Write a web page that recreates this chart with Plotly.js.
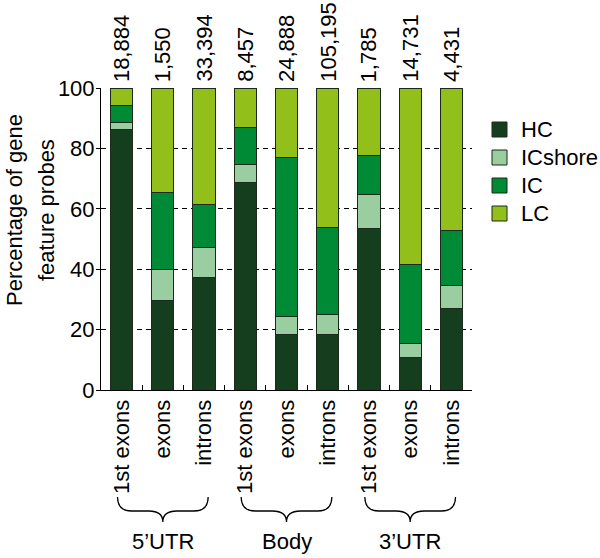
<!DOCTYPE html>
<html>
<head>
<meta charset="utf-8">
<script src="https://cdn.plot.ly/plotly-3.0.1.min.js"></script>
<style>html,body{margin:0;padding:0;background:#fff;}#chart{width:600px;height:558px;}</style>
</head>
<body>
<div id="chart"></div>
<script>
// ---- data ----
var groups = ["5\u2019UTR", "Body", "3\u2019UTR"];
var features = ["1st exons", "exons", "introns"];
var groupOfBar = ["5\u2019UTR","5\u2019UTR","5\u2019UTR","Body","Body","Body","3\u2019UTR","3\u2019UTR","3\u2019UTR"];
var featureOfBar = ["1st exons","exons","introns","1st exons","exons","introns","1st exons","exons","introns"];
var probeCounts = ["18,884","1,550","33,394","8,457","24,888","105,195","1,785","14,731","4,431"];
var HC      = [86.1, 29.7, 37.4, 68.8, 18.4, 18.4, 53.6, 10.8, 26.9];
var ICshore = [ 2.6, 10.2,  9.8,  5.8,  6.0,  6.5, 11.3,  4.7,  7.8];
var IC      = [ 5.5, 25.5, 14.3, 12.3, 52.7, 29.0, 12.8, 26.2, 18.1];
var LC      = [ 5.8, 34.6, 38.5, 13.1, 22.9, 46.1, 22.3, 58.3, 47.2];
var seriesNames = ["HC", "ICshore", "IC", "LC"];
var yTicks = [0, 20, 40, 60, 80, 100];
var yTitleLines = ["Percentage of gene", "feature probes"];

// ---- layout geometry ----
var W = 600, H = 558;
var M = {l: 101, r: 128, t: 88, b: 168};
var PW = W - M.l - M.r, PH = H - M.t - M.b;
function pxX(px){ return (px - M.l) / PW; }
function pxY(py){ return (H - M.b - py) / PH; }

// ---- build ----
var keys = groupOfBar.map(function(g, i){ return g + " | " + featureOfBar[i]; });
var colors = {HC:"#143e1d", ICshore:"#9acd9f", IC:"#008a36", LC:"#93bf1b"};
var vals = {HC:HC, ICshore:ICshore, IC:IC, LC:LC};
var FONT = "Liberation Sans, Arial, Helvetica, sans-serif";
var EDGE = "#1b2a1b";

var traces = seriesNames.map(function(n){
  return {
    type: "bar", name: n, x: keys, y: vals[n], showlegend: false,
    marker: {color: colors[n], line: {color: EDGE, width: 1}},
    hoverinfo: "x+y+name"
  };
});

var annotations = keys.map(function(k, i){
  return {x: k, y: 100, xref: "x", yref: "y", text: probeCounts[i], showarrow: false,
          textangle: -90, xanchor: "center", yanchor: "bottom", yshift: 4,
          font: {family: FONT, size: 22, color: "#000"}};
});

var nCat = keys.length;
var shapes = [];
var yTop = pxY(497), yMid = pxY(511), yTip = pxY(522);
groups.forEach(function(g, gi){
  var idxs = [];
  groupOfBar.forEach(function(gg, i){ if (gg === g) idxs.push(i); });
  var first = idxs[0], last = idxs[idxs.length-1];
  var x0 = (first - 0.1 + 0.5) / nCat, x1 = (last + 0.1 + 0.5) / nCat;
  var xc = (x0 + x1) / 2, r = 14 / PW;
  var p = "M " + x0 + "," + yTop +
          " Q " + x0 + "," + yMid + " " + (x0 + r) + "," + yMid +
          " L " + (xc - r) + "," + yMid +
          " Q " + xc + "," + yMid + " " + xc + "," + yTip +
          " Q " + xc + "," + yMid + " " + (xc + r) + "," + yMid +
          " L " + (x1 - r) + "," + yMid +
          " Q " + x1 + "," + yMid + " " + x1 + "," + yTop;
  shapes.push({type: "path", xref: "paper", yref: "paper", path: p,
               line: {color: "#000", width: 1.3}});
  annotations.push({x: xc, y: pxY(541), xref: "paper", yref: "paper", text: g,
                    showarrow: false, xanchor: "center", yanchor: "middle",
                    font: {family: FONT, size: 22, color: "#000"}});
});

// y-axis title (two lines, rotated)
var titleX = [14, 46];
yTitleLines.forEach(function(t, i){
  annotations.push({x: pxX(titleX[i]), y: pxY(210), xref: "paper", yref: "paper", text: t,
                    showarrow: false, textangle: -90, xanchor: "center", yanchor: "middle",
                    font: {family: FONT, size: 22, color: "#000"}});
});

// legend (squares + labels)
var legTop = 129.5, legStep = 28;
seriesNames.forEach(function(n, i){
  var cy = legTop + i * legStep;
  shapes.push({type: "rect", xref: "paper", yref: "paper",
               x0: pxX(492), x1: pxX(507), y0: pxY(cy + 7.5), y1: pxY(cy - 7.5),
               fillcolor: colors[n], line: {color: EDGE, width: 1}});
  annotations.push({x: pxX(519), y: pxY(cy), xref: "paper", yref: "paper", text: n,
                    showarrow: false, xanchor: "left", yanchor: "middle",
                    font: {family: FONT, size: 22, color: "#000"}});
});

var layout = {
  width: W, height: H,
  margin: {l: M.l, r: M.r, t: M.t, b: M.b, pad: 0},
  paper_bgcolor: "#fff", plot_bgcolor: "#fff",
  barmode: "stack", bargap: 0.46,
  showlegend: false,
  font: {family: FONT, size: 22, color: "#000"},
  xaxis: {
    type: "category", tickvals: keys, ticktext: featureOfBar,
    tickangle: -90, ticks: "inside", tickson: "boundaries", ticklen: 5, tickcolor: "#000",
    showline: true, linecolor: "#000", linewidth: 1, showgrid: false, zeroline: false,
    tickfont: {family: FONT, size: 22, color: "#000"}, automargin: false, fixedrange: true
  },
  yaxis: {
    range: [0, 100], tickvals: yTicks, ticks: "outside", ticklen: 4, tickcolor: "#000",
    showline: true, linecolor: "#000", linewidth: 1, ticklabelstandoff: -3,
    showgrid: true, gridcolor: "#000", griddash: "5px,4px", gridwidth: 1, zeroline: false,
    tickfont: {family: FONT, size: 22, color: "#000"}, automargin: false, fixedrange: true
  },
  shapes: shapes,
  annotations: annotations
};

Plotly.newPlot("chart", traces, layout, {displayModeBar: false});
</script>
</body>
</html>
